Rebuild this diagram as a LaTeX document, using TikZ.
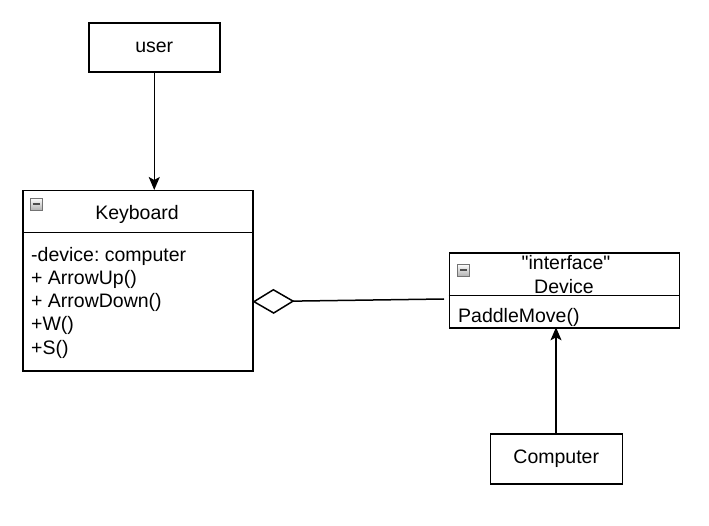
\documentclass[tikz,border=0pt]{standalone}
\usepackage{fontspec}
\setmainfont{Liberation Sans}[Ligatures=TeXOff]
\frenchspacing
\usetikzlibrary{arrows.meta}
\tikzset{
  box/.style={draw, line width=1.5pt, fill=white, inner sep=0pt, anchor=north west},
  lbl/.style={inner sep=0pt, font=\fontsize{19.5}{22}\selectfont},
  mem/.style={lbl, anchor=base west},
  conn/.style={line width=1.5pt, -{Stealth[length=13pt,width=11pt,inset=3pt]}},
  agg/.style={line width=1.5pt, {Diamond[open,length=42pt,width=25pt,line width=1.5pt]}-},
  collapse/.style={draw=black!55, line width=0.7pt, top color=white, bottom color=black!30, minimum size=12pt, inner sep=0pt}
}
\begin{document}
\begin{tikzpicture}[x=1pt,y=-1pt]
\useasboundingbox (0,0) rectangle (709,526);
% user
\node[box, minimum width=131pt, minimum height=49pt] (user) at (88,22.5) {};
\node[lbl] (userlbl) at (user.center) {user};
% Keyboard class
\node[box, minimum width=230pt, minimum height=180pt] (kb) at (22,190) {};
\coordinate (kbdivL) at (22,232.3);
\coordinate (kbdivR) at (252,232.3);
\draw[line width=1.5pt] (kbdivL) -- (kbdivR);
\node[collapse] (kbicon) at (36,204) {};
\draw[line width=1.2pt, black!70] ([xshift=-3.5pt]kbicon.center) -- ([xshift=3.5pt]kbicon.center);
\node[lbl, anchor=base] (kbtitle) at (137,219.3) {Keyboard};
\node[mem] (m1) at (31,261.7) {-device: computer};
\node[mem] (m2) at (31,284.5) {+ ArrowUp()};
\node[mem] (m3) at (31,307.5) {+ ArrowDown()};
\node[mem] (m4) at (31,330.5) {+W()};
\node[mem] (m5) at (31,354) {+S()};
% Device interface
\node[box, minimum width=230pt, minimum height=75pt] (dev) at (448.5,252.5) {};
\coordinate (devdivL) at (448.5,295.7);
\coordinate (devdivR) at (678.5,295.7);
\draw[line width=1.5pt] (devdivL) -- (devdivR);
\node[collapse] (devicon) at (463.5,270) {};
\draw[line width=1.2pt, black!70] ([xshift=-3.5pt]devicon.center) -- ([xshift=3.5pt]devicon.center);
\node[lbl, anchor=base] (devst) at (566,270) {"interface"};
\node[lbl, anchor=base] (devtitle) at (564,293.3) {Device};
\node[mem] (d1) at (458,323) {PaddleMove()};
% Computer
\node[box, minimum width=132pt, minimum height=50pt] (comp) at (489.5,433) {};
\node[lbl] (complbl) at (comp.center) {Computer};
% connectors
\draw[conn] (user.south) -- (kb.north -| user.south);
\coordinate (devx) at (556,327.3);
\draw[conn] (comp.north -| devx) -- (devx);
\coordinate (aggS) at (252.5,301.7);
\coordinate (aggE) at (444,299);
\draw[agg] (aggS) -- (aggE);
\end{tikzpicture}
\end{document}
